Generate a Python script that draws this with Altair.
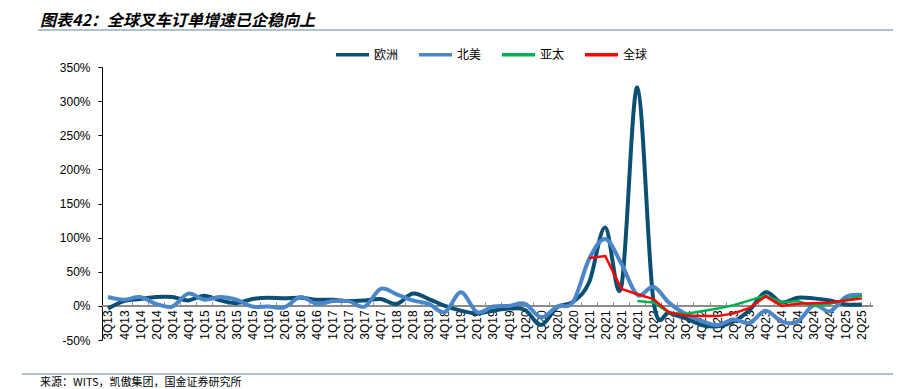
import altair as alt
import pandas as pd

quarters = ["3Q13", "4Q13",
            "1Q14", "2Q14", "3Q14", "4Q14",
            "1Q15", "2Q15", "3Q15", "4Q15",
            "1Q16", "2Q16", "3Q16", "4Q16",
            "1Q17", "2Q17", "3Q17", "4Q17",
            "1Q18", "2Q18", "3Q18", "4Q18",
            "1Q19", "2Q19", "3Q19", "4Q19",
            "1Q20", "2Q20", "3Q20", "4Q20",
            "1Q21", "2Q21", "3Q21", "4Q21",
            "1Q22", "2Q22", "3Q22", "4Q22",
            "1Q23", "2Q23", "3Q23", "4Q23",
            "1Q24", "2Q24", "3Q24", "4Q24",
            "1Q25", "2Q25"]

europe = [-4, 7, 10, 13, 13, 8, 15, 8, 4, 10, 12, 11, 12, 9, 9, 7, 8, 10, 3, 18,
          10, 0, -7, -11, -7, -4, -6, -28, -2, 6, 35, 115, 28, 320, 8, -10, -18, -28,
          -30, -23, -6, 20, 5, 12, 11, 8, 2, 2]
north_america = [13, 9, 13, 3, -1, 18, 9, 13, 9, -1, -1, -2, 13, 3, 7, 7, -1, 25, 17, 8,
                 3, -9, 20, -9, -1, 0, 3, -17, -1, 6, 69, 98, 62, 16, 28, 4, -12, -22,
                 -28, -20, -25, -7, -23, -23, 1, -8, 13, 16]
asia_pacific = [None] * 33 + [7, 5, -10, -12, -8, -4, 1, 8, 15, 5, 7, 0, 3, 9, 15]
world = [None] * 30 + [70, 73, 25, 17, 10, -10, -14, -15, -15, -11, -3, 14, 0, 3, 4, 5, 8, 11]

y_ticks = [-50, 0, 50, 100, 150, 200, 250, 300, 350]

series_names = ["欧洲", "北美", "亚太", "全球"]
series_colors = ["#0B4F73", "#4A86C8", "#00B050", "#FF0000"]

title_text = "图表42：全球叉车订单增速已企稳向上"
source_text = "来源：WITS，凯傲集团，国金证券研究所"

rows = []
for name, vals in zip(series_names, [europe, north_america, asia_pacific, world]):
    for i, v in enumerate(vals):
        if v is not None:
            rows.append({"idx": i, "series": name, "value": v})
df = pd.DataFrame(rows)

W, H = 771, 273
SP = 16.04
FONT = "Liberation Sans"
CJK = "Noto Sans CJK SC"

label_array = "[" + ",".join("'" + q + "'" for q in quarters) + "]"

x_scale = alt.Scale(domain=[-0.374, 47.69], nice=False, zero=False)
y_scale = alt.Scale(domain=[-50, 350], nice=False, zero=False)

x_axis = alt.Axis(
    values=list(range(len(quarters))),
    labelExpr=label_array + "[datum.value]",
    labelAngle=-90,
    tickOffset=SP / 2,
    labelOffset=-SP / 2,
    offset=-(H * 50 / 400) - 4,
    domain=False,
    tickSize=4,
    tickColor="#8c8c8c",
    tickWidth=1,
    grid=False,
    title=None,
    labelPadding=4,
    labelFontSize=12,
    labelFont=FONT,
    labelColor="#000000",
    labelOverlap=False,
    labelFlush=False,
)
y_axis = alt.Axis(
    values=y_ticks,
    labelExpr="datum.value + '%'",
    tickSize=4,
    domainColor="#000000",
    tickColor="#000000",
    domainWidth=1,
    grid=False,
    title=None,
    labelPadding=8,
    labelFontSize=12,
    labelFont=FONT,
    labelColor="#000000",
    labelOverlap=False,
    labelFlush=False,
)

x_enc = alt.X("idx:Q", scale=x_scale, axis=x_axis)
y_enc = alt.Y("value:Q", scale=y_scale, axis=y_axis)
color_enc = alt.Color(
    "series:N",
    scale=alt.Scale(domain=series_names, range=series_colors),
    legend=alt.Legend(
        title=None,
        orient="none",
        legendX=232,
        legendY=-31,
        direction="horizontal",
        symbolType="stroke",
        symbolSize=1089,
        symbolStrokeWidth=3.5,
        labelFont=CJK,
        labelFontSize=12,
        labelColor="#000000",
        labelOffset=3,
        columnPadding=13,
    ),
)

base = alt.Chart(df)

zero_df = pd.DataFrame({"value": [0]})
zero_line = alt.Chart(zero_df).mark_rule(color="#8c8c8c", strokeWidth=2).encode(
    y=alt.Y("value:Q", scale=y_scale, axis=y_axis)
)

smooth = base.transform_filter(
    alt.FieldOneOfPredicate(field="series", oneOf=["欧洲", "北美"])
).mark_line(interpolate="cardinal", strokeWidth=4).encode(
    x=x_enc, y=y_enc, color=color_enc, order=alt.Order("idx:Q")
)

straight = base.transform_filter(
    alt.FieldOneOfPredicate(field="series", oneOf=["亚太", "全球"])
).mark_line(strokeWidth=2.5).encode(
    x=x_enc, y=y_enc, color=color_enc, order=alt.Order("idx:Q")
)

deco_df = pd.DataFrame({"t": [title_text]})
title_mark = alt.Chart(deco_df).mark_text(
    align="left", baseline="middle", fontSize=16, fontWeight="bold",
    fontStyle="italic", font=CJK, color="#000000"
).encode(text="t:N", x=alt.value(-62), y=alt.value(-46))

src_df = pd.DataFrame({"t": [source_text]})
source_mark = alt.Chart(src_df).mark_text(
    align="left", baseline="middle", fontSize=11, font=CJK, color="#000000"
).encode(text="t:N", x=alt.value(-62), y=alt.value(316))

top_rule = alt.Chart(deco_df).mark_rule(color="#93AFC0", strokeWidth=1.5).encode(
    x=alt.value(-64), x2=alt.value(800), y=alt.value(-37)
)
bottom_rule = alt.Chart(src_df).mark_rule(color="#93AFC0", strokeWidth=1.5).encode(
    x=alt.value(-80), x2=alt.value(800), y=alt.value(307)
)

chart = alt.layer(
    zero_line, smooth, straight, top_rule, bottom_rule, title_mark, source_mark
).properties(
    width=W,
    height=H,
    padding={"left": 94, "top": 59, "right": 20, "bottom": 48},
    autosize=alt.AutoSizeParams(type="none"),
    background="#ffffff",
).configure_view(stroke=None).configure_axis(labelOverlap=False)

chart.save("out.html", embed_options={"renderer": "svg", "actions": False})
